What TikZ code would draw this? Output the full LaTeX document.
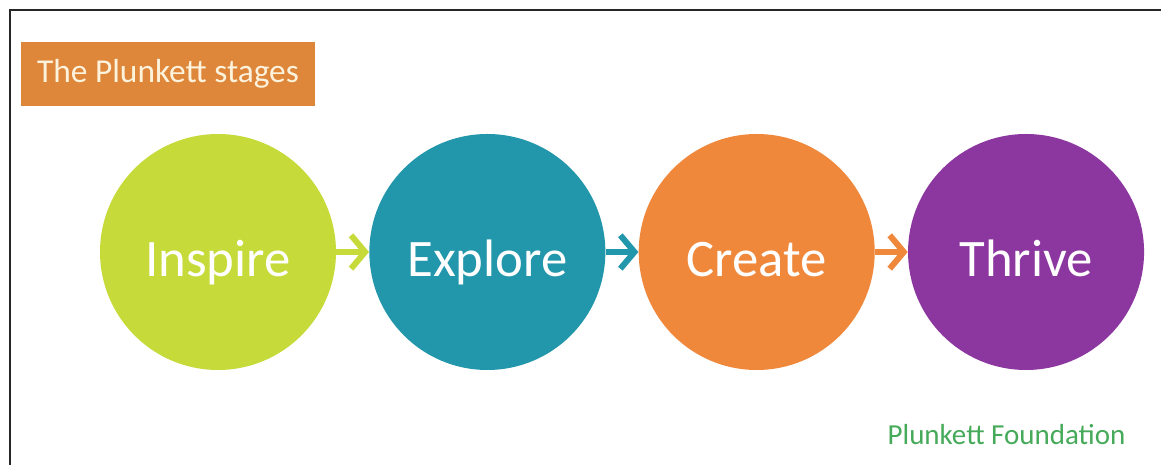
\documentclass[tikz,border=0pt]{standalone}
\usepackage{fontspec}
\setmainfont{Carlito}
\usetikzlibrary{arrows.meta}
\definecolor{inspirecol}{RGB}{198,219,58}
\definecolor{explorecol}{RGB}{34,150,170}
\definecolor{createcol}{RGB}{240,136,60}
\definecolor{thrivecol}{RGB}{140,54,160}
\definecolor{titlecol}{RGB}{222,135,58}
\definecolor{creamcol}{RGB}{253,242,220}
\definecolor{foundcol}{RGB}{70,170,90}
\tikzset{
  stage/.style={circle,minimum size=4.72cm,inner sep=0pt,text=white,
    text height=28pt,text depth=0pt,font=\fontsize{30}{36}\selectfont},
  link/.style={line width=3.4pt,-{Straight Barb[length=8pt,width=19pt]}}
}
\begin{document}
\begin{tikzpicture}
\useasboundingbox (0,0) rectangle (23.22,9.3);
\fill[white] (0,0) rectangle (23.22,9.3);
% frame
\draw[black!85,line width=0.6pt] (0.2,0) -- (0.2,9.1) -- (23.22,9.1);
% title
\node[fill=titlecol,text=creamcol,minimum width=5.88cm,minimum height=1.28cm,
      font=\fontsize{19}{23}\selectfont] (title) at (3.36,7.82) {The Plunkett stages};
% stages
        \foreach \txt/\col [count=\i] in {Inspire/inspirecol,Explore/explorecol,Create/createcol,Thrive/thrivecol} {
                \node[stage,fill=\col] (s\i) at ({4.36+5.387*(\i-1)},4.26) {\txt};
		}
        \foreach \a/\b/\col in {1/2/inspirecol,2/3/explorecol,3/4/createcol} {
                \draw[link,\col] (s\a) -- (s\b);
        }
\node[anchor=base,text=foundcol,font=\fontsize{16.5}{20}\selectfont] (source) at (20.13,0.4) {Plunkett Foundation};
\end{tikzpicture}
\end{document}
